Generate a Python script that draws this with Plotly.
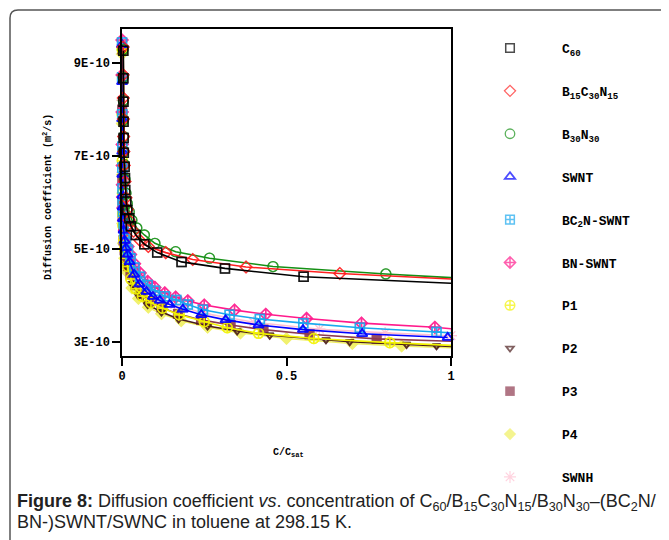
import plotly.graph_objects as go

# ---------------- data: D (x 1E-10 m^2/s) versus C/Csat ----------------
x_c60 = [0.004, 0.0042, 0.0045, 0.0048, 0.0051, 0.0055, 0.008, 0.009, 0.0097, 0.0127,
         0.016, 0.022, 0.027, 0.042, 0.068, 0.107, 0.181, 0.313, 0.552, 1.0]
y_c60 = [9.27, 8.68, 8.17, 7.74, 7.39, 7.07, 6.77, 6.53, 6.27, 6.02,
         5.84, 5.66, 5.49, 5.30, 5.10, 4.92, 4.72, 4.58, 4.40, 4.26]

x_b15 = [0.0035, 0.0038, 0.004, 0.0045, 0.005, 0.0055, 0.007, 0.009, 0.012, 0.016,
         0.022, 0.035, 0.055, 0.08, 0.133, 0.215, 0.377, 0.662, 1.0]
y_b15 = [9.35, 8.75, 8.25, 7.8, 7.42, 7.1, 6.8, 6.45, 6.1, 5.85,
         5.62, 5.38, 5.18, 5.05, 4.92, 4.77, 4.61, 4.47, 4.35]

x_b30 = [0.0035, 0.0038, 0.004, 0.0045, 0.005, 0.0055, 0.007, 0.009, 0.012, 0.016,
         0.022, 0.03, 0.045, 0.068, 0.1, 0.163, 0.266, 0.459, 0.802, 1.0]
y_b30 = [9.3, 8.7, 8.2, 7.78, 7.42, 7.1, 6.82, 6.5, 6.2, 5.98,
         5.8, 5.62, 5.45, 5.3, 5.12, 4.94, 4.80, 4.62, 4.46, 4.38]

x_swnt = [0.0002, 0.0004, 0.0006, 0.0008, 0.001, 0.0015, 0.002, 0.003, 0.005, 0.008,
          0.012, 0.017, 0.023, 0.037, 0.053, 0.074, 0.094, 0.115, 0.145, 0.185,
          0.241, 0.315, 0.415, 0.55, 0.73, 0.99]
y_swnt = [9.4, 8.6, 7.8, 7.1, 6.6, 6.15, 5.9, 5.65, 5.4, 5.18,
          5.02, 4.88, 4.72, 4.45, 4.24, 4.08, 3.97, 3.89, 3.8, 3.7,
          3.58, 3.47, 3.36, 3.26, 3.17, 3.09]

x_bc2n = [0.0002, 0.0004, 0.0006, 0.0008, 0.001, 0.0015, 0.002, 0.003, 0.005, 0.008,
          0.012, 0.018, 0.026, 0.038, 0.055, 0.078, 0.1, 0.13, 0.165, 0.2,
          0.246, 0.327, 0.419, 0.551, 0.723, 0.956, 1.0]
y_bc2n = [9.45, 8.7, 7.9, 7.2, 6.75, 6.3, 6.05, 5.8, 5.55, 5.32,
          5.15, 4.98, 4.8, 4.6, 4.4, 4.22, 4.1, 3.98, 3.9, 3.8,
          3.69, 3.58, 3.49, 3.40, 3.30, 3.21, 3.19]

x_bn = [0.0002, 0.0004, 0.0006, 0.0008, 0.001, 0.0015, 0.002, 0.003, 0.005, 0.008,
        0.012, 0.018, 0.026, 0.038, 0.055, 0.078, 0.1, 0.13, 0.163, 0.2,
        0.25, 0.342, 0.437, 0.561, 0.728, 0.951, 1.0]
y_bn = [9.5, 8.75, 7.95, 7.25, 6.8, 6.38, 6.12, 5.88, 5.62, 5.4,
        5.22, 5.05, 4.88, 4.68, 4.48, 4.3, 4.17, 4.05, 3.96, 3.88,
        3.79, 3.68, 3.59, 3.50, 3.40, 3.31, 3.28]

x_p1 = [0.0002, 0.0005, 0.001, 0.0015, 0.002, 0.003, 0.005, 0.008, 0.012, 0.017,
        0.027, 0.042, 0.062, 0.088, 0.123, 0.174, 0.25, 0.32, 0.415, 0.583, 0.814, 1.0]
y_p1 = [9.3, 7.9, 6.9, 6.2, 5.75, 5.5, 5.2, 5.0, 4.8, 4.62,
        4.35, 4.14, 3.98, 3.84, 3.72, 3.58, 3.43, 3.3, 3.18, 3.07, 2.98, 2.92]

x_p2 = [0.0002, 0.0005, 0.001, 0.002, 0.004, 0.008, 0.015, 0.03, 0.05, 0.078,
        0.12, 0.172, 0.26, 0.35, 0.449, 0.62, 0.692, 0.865, 0.956, 1.0]
y_p2 = [9.25, 7.8, 6.8, 5.65, 5.25, 4.92, 4.62, 4.25, 4.0, 3.8,
        3.64, 3.49, 3.34, 3.23, 3.14, 3.04, 3.0, 2.94, 2.91, 2.9]

x_p3 = [0.0002, 0.0005, 0.001, 0.0015, 0.002, 0.003, 0.005, 0.008, 0.012, 0.018,
        0.026, 0.04, 0.06, 0.085, 0.12, 0.17, 0.24, 0.33, 0.43, 0.57, 0.774, 1.0]
y_p3 = [9.3, 8.0, 6.5, 6.0, 5.72, 5.45, 5.18, 4.97, 4.8, 4.63,
        4.45, 4.22, 4.03, 3.88, 3.74, 3.6, 3.47, 3.36, 3.26, 3.16, 3.06, 3.01]

x_p4 = [0.0002, 0.0005, 0.001, 0.002, 0.004, 0.008, 0.015, 0.03, 0.05, 0.08,
        0.12, 0.18, 0.26, 0.36, 0.5, 0.7, 0.85, 1.0]
y_p4 = [9.2, 7.7, 6.6, 5.55, 5.12, 4.8, 4.5, 4.16, 3.93, 3.74,
        3.6, 3.45, 3.31, 3.19, 3.07, 2.96, 2.91, 2.87]

x_swnh = [0.0002, 0.0005, 0.001, 0.002, 0.004, 0.008, 0.015, 0.03, 0.06, 0.1,
          0.16, 0.25, 0.4, 0.6, 0.8, 1.0]
y_swnh = [9.4, 8.2, 6.65, 5.9, 5.5, 5.22, 4.95, 4.6, 4.18, 3.97,
          3.8, 3.61, 3.42, 3.27, 3.19, 3.13]

names = ["C<sub>60</sub>", "B<sub>15</sub>C<sub>30</sub>N<sub>15</sub>", "B<sub>30</sub>N<sub>30</sub>",
         "SWNT", "BC<sub>2</sub>N-SWNT", "BN-SWNT", "P1", "P2", "P3", "P4", "SWNH"]
xs = [x_c60, x_b15, x_b30, x_swnt, x_bc2n, x_bn, x_p1, x_p2, x_p3, x_p4, x_swnh]
ys = [y_c60, y_b15, y_b30, y_swnt, y_bc2n, y_bn, y_p1, y_p2, y_p3, y_p4, y_swnh]

y_tickvals = [3, 5, 7, 9]
y_ticktext = ["3E-10", "5E-10", "7E-10", "9E-10"]
x_tickvals = [0, 0.5, 1]
x_ticktext = ["0", "0.5", "1"]

# ---------------- styles ----------------
styles = [
    dict(color="#000000", symbol="square-open", size=9, lw=1.5),
    dict(color="#FF2020", symbol="diamond-open", size=9, lw=1.3),
    dict(color="#159015", symbol="circle-open", size=10, lw=1.3),
    dict(color="#0000FF", symbol="triangle-up-open", size=9, lw=1.8),
    dict(color="#1AA8EE", symbol="square-cross-open", size=9, lw=1.5),
    dict(color="#FF1A8C", symbol="diamond-cross-open", size=9, lw=1.5),
    dict(color="#F2F200", symbol="circle-cross-open", size=10, lw=1.5),
    dict(color="#4A1C1C", symbol="triangle-down-open", size=7, lw=1.8),
    dict(color="#8E3A50", symbol="square", size=10, lw=0),
    dict(color="#F0F060", symbol="diamond", size=10, lw=0),
    dict(color="#FFC0D2", symbol="asterisk-open", size=10, lw=1.2),
]

FONT_MONO = "Liberation Mono"

fig = go.Figure()
order = list(range(len(names)))[::-1]
for i in order:
    st = styles[i]
    x, y = xs[i], ys[i]
    sizes = [0 if (xv >= 1.0 and i != 10) else st["size"] for xv in x]
    fig.add_trace(go.Scatter(
        x=x, y=y, mode="lines+markers", name=names[i], legendgroup=str(i),
        legendrank=i + 1, cliponaxis=False,
        line=dict(color=st["color"], width=1.6),
        marker=dict(symbol=st["symbol"], size=sizes, color=st["color"],
                    line=dict(color=st["color"], width=st["lw"])),
        showlegend=False,
    ))
    fig.add_trace(go.Scatter(
        x=x, y=y, mode="markers", name=names[i], legendgroup=str(i),
        legendrank=i + 1, cliponaxis=False,
        marker=dict(symbol=st["symbol"], size=sizes, color=st["color"],
                    line=dict(color=st["color"], width=st["lw"])),
        showlegend=True,
    ))

# page is drawn with an 8px body margin -> figure is 8px smaller, coords in window pixels
OFF = 8
W, H = 669 - OFF, 540 - OFF
L, R, T, B = 122, 451, 29, 356   # plot area in window pixels


def pxx(p):
    return (p - L) / (R - L)


def pxy(p):
    return (B - p) / (B - T)


fig.update_layout(
    width=W, height=H,
    margin=dict(l=L - OFF, r=W - (R - OFF), t=T - OFF, b=H - (B - OFF), pad=0),
    paper_bgcolor="white", plot_bgcolor="white",
    showlegend=True,
    legend=dict(
        x=pxx(458), y=pxy(33), xanchor="left", yanchor="top",
        font=dict(family=FONT_MONO, size=13, color="black", weight="bold"),
        itemwidth=94, tracegroupgap=23, bgcolor="rgba(0,0,0,0)",
        itemclick=False, itemdoubleclick=False, maxheight=520,
    ),
    xaxis=dict(
        range=[0, 1], tickvals=x_tickvals, ticktext=x_ticktext,
        showgrid=False, zeroline=False, showline=True, mirror=True,
        linecolor="black", linewidth=1.5, ticks="outside", ticklen=8,
        tickwidth=1.5, tickcolor="black",
        tickfont=dict(family=FONT_MONO, size=12, color="black", weight="bold"),
    ),
    yaxis=dict(
        range=[2.692, 9.739], tickvals=y_tickvals, ticktext=y_ticktext,
        showgrid=False, zeroline=False, showline=True, mirror=True,
        linecolor="black", linewidth=1.5, ticks="outside", ticklen=8,
        tickwidth=1.5, tickcolor="black",
        tickfont=dict(family=FONT_MONO, size=12, color="black", weight="bold"),
    ),
)

CAP_FONT = dict(family="Liberation Sans", size=18, color="#222222")
annotations = [
    dict(text="Diffusion coefficient (m<sup>2</sup>/s)", textangle=-90,
         x=pxx(47), y=pxy(197), xanchor="center", yanchor="middle",
         font=dict(family=FONT_MONO, size=10, color="black", weight="bold")),
    dict(text="C/C<sub>sat</sub>", x=pxx(288), y=pxy(453), xanchor="center", yanchor="middle",
         font=dict(family=FONT_MONO, size=10, color="black", weight="bold")),
    dict(text="<b>Figure 8:</b> Diffusion coefficient <i>vs</i>. concentration of "
              "C<sub>60</sub>/B<sub>15</sub>C<sub>30</sub>N<sub>15</sub>/B<sub>30</sub>N<sub>30</sub>"
              "–(BC<sub>2</sub>N/",
         x=pxx(15), y=pxy(502), xanchor="left", yanchor="middle", font=CAP_FONT),
    dict(text="BN-)SWNT/SWNC in toluene at 298.15 K.",
         x=pxx(15), y=pxy(522), xanchor="left", yanchor="middle", font=CAP_FONT),
]
for a in annotations:
    a.update(xref="paper", yref="paper", showarrow=False)
fig.update_layout(annotations=annotations)

frame_path = (f"M {pxx(10)},{pxy(560)} L {pxx(10)},{pxy(18)} "
              f"Q {pxx(10)},{pxy(10)} {pxx(18)},{pxy(10)} L {pxx(680)},{pxy(10)}")
fig.add_shape(type="path", path=frame_path, xref="paper", yref="paper",
              line=dict(color="#555555", width=1.5), layer="above")

fig.write_html("out.html")
